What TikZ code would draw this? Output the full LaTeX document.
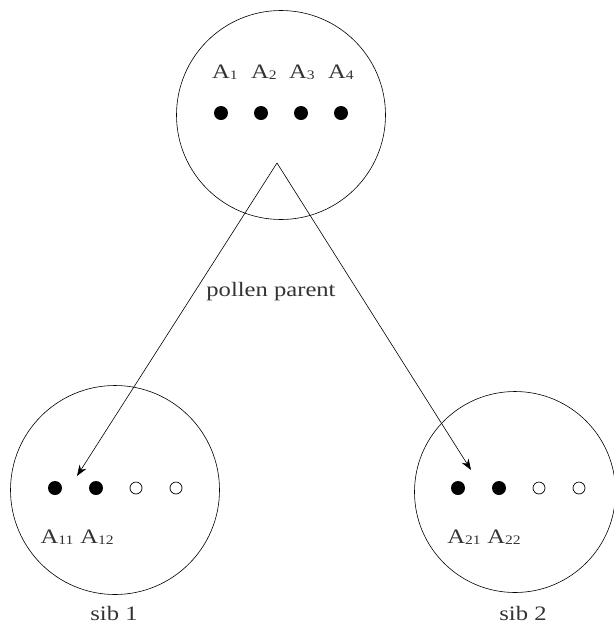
\documentclass[tikz,border=0pt]{standalone}
\usepackage{fontspec}
\setmainfont[FakeStretch=1.2]{Liberation Serif}
\usetikzlibrary{arrows.meta}
\newcommand{\Asub}[1]{A\raisebox{-0.1ex}{\fontsize{13}{14}\selectfont #1}}
\begin{document}
\begin{tikzpicture}[x=1pt,y=-1pt,
  txt/.style={inner sep=0pt,font=\fontsize{20.5}{23}\selectfont,text=black!80},
  big/.style={draw,circle,line width=0.6pt,inner sep=0pt},
  full/.style={circle,fill=black,inner sep=0pt,minimum size=14pt},
  empty/.style={circle,draw,line width=0.7pt,inner sep=0pt,minimum size=12pt},
  link/.style={line width=0.6pt,-{Stealth[length=11pt,width=8pt]}}]
\useasboundingbox (0,0) rectangle (614,625);
% circles
\node[big,minimum size=209pt] (top) at (281,115) {};
\node[big,minimum size=209pt] (s1) at (115,490) {};
\node[big,minimum size=201pt] (s2) at (515,492) {};
% top dots and labels
\foreach \i/\x/\lx in {1/221/225,2/261/264,3/301/302,4/341/341}{
  \node[full] (t\i) at (\x,113) {};
  \node[txt] (lt\i) at (\lx,72) {\Asub{\i}};
}
% sib 1
\node[full] (a1) at (55,488) {};
\node[full] (a2) at (96,488) {};
\node[empty] (a3) at (136,488) {};
\node[empty] (a4) at (176,488) {};
\node[txt] (la1) at (57,537) {\Asub{11}};
\node[txt] (la2) at (97,537) {\Asub{12}};
\node[txt] (sib1) at (114,613) {sib 1};
% sib 2
\node[full] (b1) at (458,488) {};
\node[full] (b2) at (499,488) {};
\node[empty] (b3) at (539,488) {};
\node[empty] (b4) at (579,488) {};
\node[txt] (lb1) at (464,537) {\Asub{21}};
\node[txt] (lb2) at (504,537) {\Asub{22}};
\node[txt] (sib2) at (523,613) {sib 2};
% arrows
\coordinate (apex) at (277,163);
\coordinate (e1) at (77,476);
\coordinate (e2) at (471,470);
\draw[link] (apex) -- (e1);
\draw[link] (apex) -- (e2);
\node[txt] (pp) at (271,292) {pollen parent};
\end{tikzpicture}
\end{document}
